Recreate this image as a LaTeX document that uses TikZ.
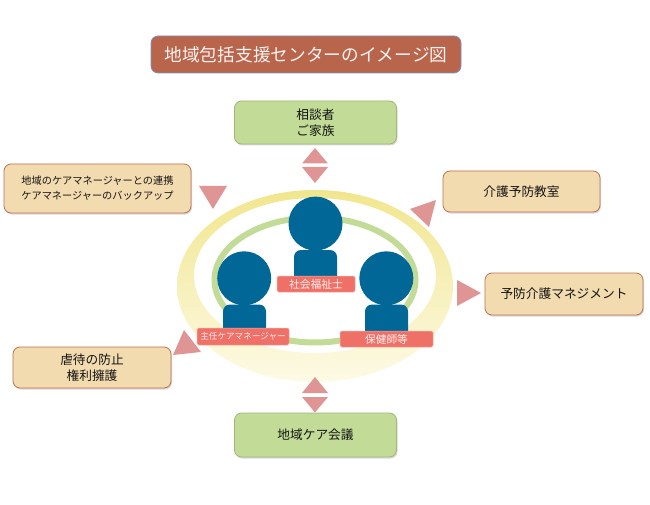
\documentclass[tikz,border=0pt]{standalone}
\usepackage{fontspec}
\setmainfont{Noto Sans CJK JP}
\usetikzlibrary{shadows}
\definecolor{titlefill}{HTML}{B9654C}
\definecolor{titleline}{HTML}{7C90C4}
\definecolor{greenfill}{HTML}{C2DB96}
\definecolor{greenline}{HTML}{9DB878}
\definecolor{beigefill}{HTML}{F3DBB0}
\definecolor{beigeline}{HTML}{BE6F53}
\definecolor{arrowpink}{HTML}{E09595}
\definecolor{personblue}{HTML}{006796}
\definecolor{labelred}{HTML}{EF7067}
\definecolor{labelline}{HTML}{F7B0A8}
\definecolor{ringtop}{HTML}{F1E68E}
\definecolor{ringbottom}{HTML}{FDFAE6}
\tikzset{
	softshadow/.style={drop shadow={shadow xshift=1pt,shadow yshift=-1.5pt,opacity=.22,fill=black!70}},
	greenbox/.style={draw=greenline,fill=greenfill,line width=.8pt,rounded corners=7pt,softshadow,inner sep=0pt,minimum width=162pt,minimum height=43pt,align=center,text=black!92,font=\fontsize{12.7}{16}\selectfont},
	beigebox/.style={draw=beigeline,fill=beigefill,line width=.8pt,rounded corners=7pt,softshadow,inner sep=0pt,minimum width=157pt,minimum height=41pt,align=center,text=black!92,font=\fontsize{12.7}{16}\selectfont},
	namelabel/.style={draw=labelline,fill=labelred,line width=.5pt,rounded corners=1.5pt,inner sep=0pt,text=white!90!labelred},
	pointer/.style={fill=arrowpink},
	personpart/.style={fill=personblue},
}
\begin{document}
\begin{tikzpicture}[x=1pt,y=-1pt]
	\useasboundingbox (0,0) rectangle (650,505);
	% rings
	\shade[even odd rule,top color=ringtop,bottom color=ringbottom] (315,286) ellipse [x radius=138,y radius=96] (315,275.5) ellipse [x radius=121,y radius=77.5];
	\draw[greenfill,line width=6pt] (315,280) ellipse [x radius=100.5,y radius=62.5];
	% people
	\fill[personpart] (315.5,223.6) circle (27);
	\fill[personpart] (294,276) [rounded corners=7pt] -- (294,250) -- (337,250) [sharp corners] -- (337,276) -- cycle;
	\fill[personpart] (244.2,278.3) circle (27);
	\fill[personpart] (223,329) [rounded corners=7pt] -- (223,304.5) -- (266,304.5) [sharp corners] -- (266,329) -- cycle;
	\fill[personpart] (386.3,278.3) circle (27);
	\fill[personpart] (365,332) [rounded corners=7pt] -- (365,304.5) -- (408,304.5) [sharp corners] -- (408,332) -- cycle;
	\node[namelabel,minimum width=78pt,minimum height=16pt,font=\fontsize{10.8}{12}\selectfont] (socialworker) at (316,284) {社会福祉士};
	\node[namelabel,minimum width=92pt,minimum height=17pt,font=\fontsize{8.6}{10}\selectfont] (caremanager) at (243,336.5) {主任ケアマネージャー};
	\node[namelabel,minimum width=93pt,minimum height=16pt,font=\fontsize{10.7}{12}\selectfont] (nurse) at (386.5,339) {保健師等};
	% boxes
	\node[draw=titleline,fill=titlefill,line width=.8pt,rounded corners=7pt,inner sep=0pt,minimum width=310pt,minimum height=37pt,text=white!92!titlefill,font=\fontsize{17.7}{20}\selectfont] (title) at (306,54.5) {地域包括支援センターのイメージ図};
	\node[greenbox] (family) at (315.5,122.5) {相談者\\ご家族};
	\node[greenbox,minimum height=44pt] (meeting) at (315.5,435) {地域ケア会議};
	\node[beigebox,minimum width=187pt,minimum height=49pt,font=\fontsize{10.2}{15}\selectfont] (support) at (97.5,188.5) {地域のケアマネージャーとの連携\\ケアマネージャーのバックアップ};
	\node[beigebox] (classroom) at (521.5,191.5) {介護予防教室};
	\node[beigebox,minimum width=158pt,minimum height=42pt] (management) at (564,294) {予防介護マネジメント};
	\node[beigebox,minimum width=158pt] (rights) at (92,367.5) {虐待の防止\\権利擁護};
	% triangles
	\fill[pointer] (315,148) -- (328,163.5) -- (302,163.5) -- cycle;
	\fill[pointer] (302,167) -- (328,167) -- (315,183) -- cycle;
	\fill[pointer] (315,377) -- (328,393) -- (302,393) -- cycle;
	\fill[pointer] (302,397) -- (328,397) -- (315,412.5) -- cycle;
	\fill[pointer] (199,186) -- (227,186) -- (213,209) -- cycle;
	\fill[pointer] (436,200) -- (410,209) -- (429,227) -- cycle;
	\fill[pointer] (457,280) -- (481,293) -- (457,306) -- cycle;
	\fill[pointer] (184,330) -- (201,352) -- (173,355) -- cycle;
\end{tikzpicture}
\end{document}
